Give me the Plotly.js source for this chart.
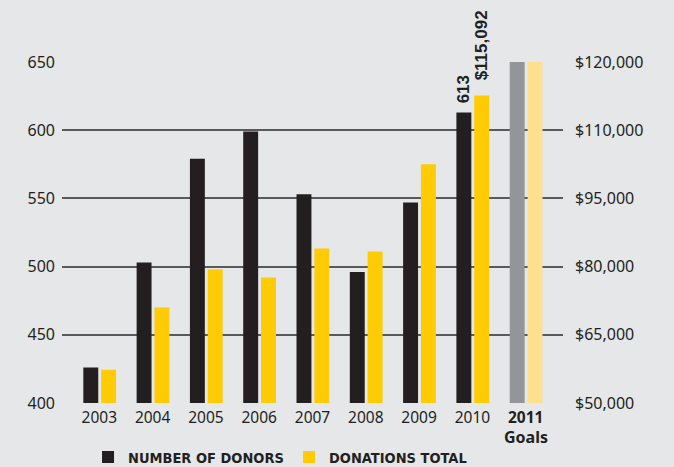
<!DOCTYPE html>
<html>
<head>
<meta charset="utf-8">
<script src="https://cdn.plot.ly/plotly-3.0.1.min.js"></script>
<style>
  html, body { margin: 0; padding: 0; background: #e6e7e8; }
  #chart { width: 674px; height: 467px; }
</style>
</head>
<body>
<div id="chart"></div>
<script>
// ---- data ----
const years = ['2003', '2004', '2005', '2006', '2007', '2008', '2009', '2010', '2011'];
const yearLabels = ['2003', '2004', '2005', '2006', '2007', '2008', '2009', '2010', '<b>2011</b>'];
const donors = [426, 503, 579, 599, 553, 496, 547, 613, 650];          // 2011 = goal
const donations = [57300, 71000, 79400, 77600, 84000, 83300, 102500, 115092, 120000]; // 2011 = goal
const leftTicks = [400, 450, 500, 550, 600, 650];
const rightTicks = [50000, 65000, 80000, 95000, 110000, 120000];

// colours: regular years vs. the 2011 goal
const donorColors = years.map(y => y === '2011' ? '#939598' : '#231f20');
const donationColors = years.map(y => y === '2011' ? '#ffe08e' : '#ffcb05');

// The original right axis steps $15,000 per gridline up to $110,000,
// then only $10,000 for the last gridline: map dollars onto that axis.
function toAxis(v) {
  return v <= 110000 ? v : 110000 + (v - 110000) * 1.5;
}
function money(v) {
  return '$' + v.toLocaleString('en-US');
}

const font = 'Noto Sans, sans-serif';
const boldLabel = 'Liberation Sans, Arial, sans-serif';
const legendFont = 'DejaVu Sans Condensed, sans-serif';

const i2010 = years.indexOf('2010');
const i2011 = years.indexOf('2011');

const traceDonors = {
  type: 'bar', name: 'NUMBER OF DONORS', x: years, y: donors, yaxis: 'y',
  width: 0.28, offset: -0.30,
  marker: { color: donorColors, line: { width: 0 } },
  hovertemplate: '%{x}: %{y} donors<extra></extra>'
};
const traceDonations = {
  type: 'bar', name: 'DONATIONS TOTAL', x: years, y: donations.map(toAxis),
  customdata: donations.map(money), yaxis: 'y2',
  width: 0.28, offset: 0.035,
  marker: { color: donationColors, line: { width: 0 } },
  hovertemplate: '%{x}: %{customdata}<extra></extra>'
};

const layout = {
  width: 674, height: 467,
  paper_bgcolor: '#e6e7e8', plot_bgcolor: '#e6e7e8',
  margin: { l: 62, r: 111, t: 62, b: 64, pad: 0 },
  font: { family: font, size: 16, color: '#231f20' },
  barmode: 'overlay',
  showlegend: true,
  legend: {
    orientation: 'h',
    xref: 'container', x: 0.1306, xanchor: 'left',
    yref: 'container', y: 0.021, yanchor: 'middle',
    entrywidth: 156, entrywidthmode: 'pixels',
    bgcolor: 'rgba(0,0,0,0)',
    font: { family: legendFont, size: 14.5, color: '#231f20', weight: 'bold' },
    traceorder: 'normal'
  },
  xaxis: {
    type: 'category', range: [-0.7, 8.7],
    tickmode: 'array', tickvals: years, ticktext: yearLabels,
    showgrid: false, showline: false, zeroline: false, ticks: '',
    ticklabelstandoff: 3,
    tickfont: { family: font, size: 15.5, color: '#231f20' },
    fixedrange: true
  },
  yaxis: {
    range: [400, 650],
    tickmode: 'array', tickvals: leftTicks, ticktext: leftTicks.map(String),
    showgrid: true, gridcolor: '#58595b', gridwidth: 1.6,
    showline: false, zeroline: false, ticks: '',
    ticklabelstandoff: 6,
    tickfont: { family: font, size: 16, color: '#231f20' },
    fixedrange: true
  },
  yaxis2: {
    overlaying: 'y', side: 'right', range: [50000, 125000],
    tickmode: 'array', tickvals: rightTicks.map(toAxis), ticktext: rightTicks.map(money),
    showgrid: false, showline: false, zeroline: false, ticks: '',
    ticklabelstandoff: 11,
    tickfont: { family: font, size: 16, color: '#231f20' },
    fixedrange: true
  },
  annotations: [
    {
      x: i2011, xref: 'x', y: -0.099, yref: 'paper',
      text: '<b>Goals</b>', showarrow: false, yanchor: 'middle',
      borderpad: 0,
      font: { family: font, size: 16, color: '#231f20' }
    },
    {
      x: i2010, xref: 'x', xshift: -8.5,
      y: donors[i2010], yref: 'y', yanchor: 'bottom', yshift: 7,
      text: '<b>' + donors[i2010] + '</b>', textangle: -90, showarrow: false,
      font: { family: boldLabel, size: 17, color: '#231f20' }
    },
    {
      x: i2010, xref: 'x', xshift: 9.5,
      y: toAxis(donations[i2010]), yref: 'y2', yanchor: 'bottom', yshift: 13,
      text: '<b>' + money(donations[i2010]) + '</b>', textangle: -90, showarrow: false,
      font: { family: boldLabel, size: 17, color: '#231f20' }
    }
  ]
};

Plotly.newPlot('chart', [traceDonors, traceDonations], layout, { displayModeBar: false });
</script>
</body>
</html>
